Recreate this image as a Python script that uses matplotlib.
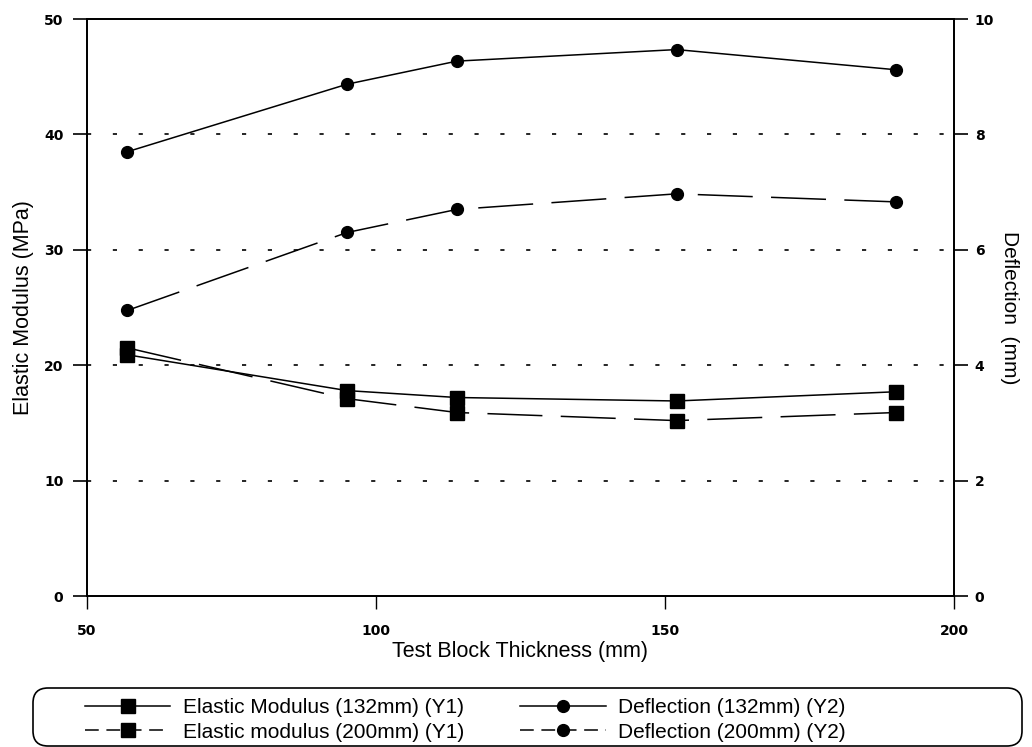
import matplotlib
matplotlib.use("Agg")
import matplotlib.pyplot as plt
from matplotlib.legend_handler import HandlerLine2D
from matplotlib.patches import FancyBboxPatch

# Test block thickness (mm)
thickness = [57, 95, 114, 152, 190]

# Elastic modulus (MPa), left axis
modulus_132 = [20.9, 17.8, 17.2, 16.9, 17.7]
modulus_200 = [21.5, 17.1, 15.9, 15.2, 15.9]

# Deflection (mm), right axis
deflection_132 = [7.70, 8.87, 9.27, 9.47, 9.12]
deflection_200 = [4.95, 6.30, 6.70, 6.97, 6.83]

x_ticks = [50, 100, 150, 200]
y1_ticks = [0, 10, 20, 30, 40, 50]
y2_ticks = [0, 2, 4, 6, 8, 10]

plt.rcParams['font.family'] = ['Liberation Sans', 'DejaVu Sans']


class MarkerRightHandler(HandlerLine2D):
    # put the legend marker at ~65% of the handle, like "——■—"
    def get_xdata(self, legend, xdescent, ydescent, width, height, fontsize):
        xdata = [-xdescent, -xdescent + width]
        xmarker = [-xdescent + 0.65 * width]
        return xdata, xmarker

    def create_artists(self, legend, orig_handle, xdescent, ydescent,
                       width, height, fontsize, trans):
        arts = super().create_artists(legend, orig_handle, xdescent, ydescent,
                                      width, height, fontsize, trans)
        # shorter dashes so the pattern shows in the short handle
        if orig_handle.get_linestyle() not in ('-', 'solid'):
            arts[0].set_dashes((9, 5))
        return arts


W, H = 1032, 747
fig = plt.figure(figsize=(W / 100, H / 100), dpi=100)
ax = fig.add_axes([87 / W, 1 - 596 / H, (954 - 87) / W, (596 - 19) / H])
ax2 = ax.twinx()

line_kw = dict(color='black', linewidth=1.1)
dash = (36, 12)

l1, = ax.plot(thickness, modulus_132, marker='s', markersize=10, label='Elastic Modulus (132mm) (Y1)', **line_kw)
l2, = ax.plot(thickness, modulus_200, marker='s', markersize=10, dashes=dash, label='Elastic modulus (200mm) (Y1)', **line_kw)
l3, = ax2.plot(thickness, deflection_132, marker='o', markersize=8.5, label='Deflection (132mm) (Y2)', **line_kw)
l4, = ax2.plot(thickness, deflection_200, marker='o', markersize=8.5, dashes=dash, label='Deflection (200mm) (Y2)', **line_kw)

# dotted horizontal grid
for yv in y1_ticks[1:-1]:
    ax.axhline(yv, color='black', linewidth=1.2, dashes=(2.5, 13), zorder=0)

ax.set_xlim(50, 200)
ax.set_ylim(0, 50)
ax2.set_ylim(0, 10)
ax.set_xticks(x_ticks)
ax.set_yticks(y1_ticks)
ax2.set_yticks(y2_ticks)

tick_font = dict(fontfamily='DejaVu Sans', fontweight='bold', fontsize=10)
for lab in ax.get_xticklabels() + ax.get_yticklabels() + ax2.get_yticklabels():
    lab.set(**tick_font)

ax.tick_params(axis='y', direction='out', length=10, width=1.2, pad=7)
ax.tick_params(axis='x', direction='out', length=9, width=1.0, pad=11)
ax2.tick_params(axis='y', direction='out', length=10, width=1.2, pad=5)
for a in (ax, ax2):
    for s in a.spines.values():
        s.set_linewidth(1.3)

ax.set_xlabel('Test Block Thickness (mm)', fontsize=15.5, labelpad=2)
ax.set_ylabel('Elastic Modulus (MPa)', fontsize=15.5, labelpad=7)
ax2.set_ylabel('Deflection  (mm)', fontsize=15, rotation=270, labelpad=18)

handles = [l1, l2, l3, l4]
fig.legend(handles=handles, labels=[h.get_label() for h in handles],
           ncol=2, loc='center left', bbox_to_anchor=(85 / W, 1 - 720 / H),
           frameon=False, fontsize=15, handlelength=4.1, handletextpad=0.6,
           columnspacing=2.7, labelspacing=0.25, borderpad=0, borderaxespad=0,
           handler_map={matplotlib.lines.Line2D: MarkerRightHandler(numpoints=1)})

# rounded frame around the legend
box = FancyBboxPatch((0.33, 0.01), 10.22 - 0.33, 0.58,
                     boxstyle='round,pad=0,rounding_size=0.15',
                     transform=fig.dpi_scale_trans, facecolor='none',
                     edgecolor='black', linewidth=1.2)
fig.add_artist(box)

fig.savefig('out.png', dpi=100)
